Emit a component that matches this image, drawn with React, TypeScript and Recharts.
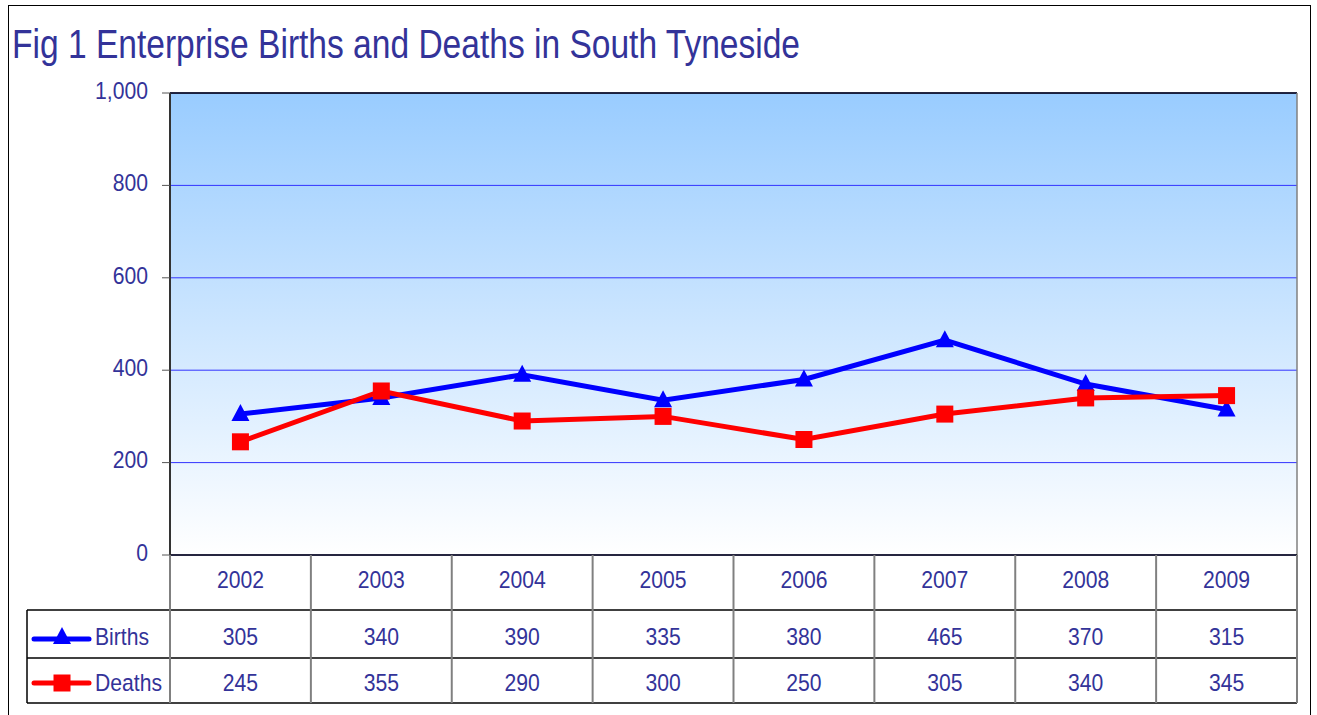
import React from 'react';
import { LineChart, Line, XAxis, YAxis, CartesianGrid } from 'recharts';

const years = ['2002', '2003', '2004', '2005', '2006', '2007', '2008', '2009'];
const births = [305, 340, 390, 335, 380, 465, 370, 315];
const deaths = [245, 355, 290, 300, 250, 305, 340, 345];
const yTicks = [0, 200, 400, 600, 800, 1000];

const data = years.map((year, i) => ({ year, Births: births[i], Deaths: deaths[i] }));

const W = 1317;
const H = 715;
const PLOT_LEFT = 170;
const PLOT_RIGHT = 1297;
const PLOT_TOP = 93;
const PLOT_BOTTOM = 555;
const TABLE_LEFT = 27;
const COL_W = (PLOT_RIGHT - PLOT_LEFT) / years.length;
const ROW_YEAR = 25;
const ROW_BIRTHS = 82;
const ROW_DEATHS = 128;
const LINE_B = 55;
const LINE_D = 103;
const TABLE_H = 148;

const FONT = '"Liberation Sans", Arial, sans-serif';
const TEXT = '#333399';
const BLUE = '#0000ff';
const RED = '#ff0000';

// slightly narrowed text, like the original export
const NText = ({ x, y, anchor = 'middle', children }: any) => (
  <text
    transform={`translate(${x},${y}) scale(0.9,1)`}
    fill={TEXT}
    fontSize={23.5}
    fontFamily={FONT}
    textAnchor={anchor}
    dominantBaseline="central"
  >
    {children}
  </text>
);

const Triangle = ({ cx, cy }: { cx: number; cy: number }) => (
  <path d={`M${cx},${cy - 10} L${cx + 9},${cy + 7} L${cx - 9},${cy + 7} Z`} fill={BLUE} />
);

const Square = ({ cx, cy }: { cx: number; cy: number }) => (
  <rect x={cx - 8.5} y={cy - 8.5} width={17} height={17} fill={RED} />
);

// each x tick draws its column of the data table
const TableTick = (props: any) => {
  const { x, y, payload, index } = props;
  const last = index === years.length - 1;
  return (
    <g>
      <line x1={x - COL_W / 2} x2={x - COL_W / 2} y1={y} y2={y + TABLE_H} stroke="#808080" strokeWidth={2} />
      {last && <line x1={x + COL_W / 2} x2={x + COL_W / 2} y1={y} y2={y + TABLE_H} stroke="#808080" strokeWidth={2} />}
      <NText x={x} y={y + ROW_YEAR}>{payload.value}</NText>
      <NText x={x} y={y + ROW_BIRTHS}>{births[index]}</NText>
      <NText x={x} y={y + ROW_DEATHS}>{deaths[index]}</NText>
    </g>
  );
};

const YTick = (props: any) => {
  const { x, y, payload } = props;
  return <NText x={x} y={y - 2} anchor="end">{payload.value.toLocaleString('en-US')}</NText>;
};

const App = () => {
  return (
    <div style={{ position: 'absolute', left: 0, top: 0, width: W, height: H, background: '#fff' }}>
      <div style={{ position: 'absolute', left: 8, top: 5, width: 1303, height: 740, border: '1.5px solid #000', boxSizing: 'border-box' }} />
      <div style={{ position: 'absolute', left: 0, top: 0 }}>
        <LineChart width={W} height={H} data={data} margin={{ top: PLOT_TOP, right: W - PLOT_RIGHT, bottom: 12, left: 0 }}>
          <defs>
            <linearGradient id="plotBg" x1="0" y1="0" x2="0" y2="1">
              <stop offset="0%" stopColor="#99ccff" />
              <stop offset="100%" stopColor="#ffffff" />
            </linearGradient>
          </defs>
          <CartesianGrid vertical={false} stroke="#3333ff" strokeWidth={1} fill="url(#plotBg)" fillOpacity={1} />
          <XAxis
            dataKey="year"
            height={TABLE_H}
            padding={{ left: COL_W / 2, right: COL_W / 2 }}
            interval={0}
            tickSize={0}
            tickMargin={0}
            tickLine={false}
            axisLine={{ stroke: '#000', strokeWidth: 1.5 }}
            tick={TableTick}
          />
          <YAxis
            width={PLOT_LEFT}
            domain={[0, 1000]}
            ticks={yTicks}
            interval={0}
            tickSize={8}
            tickMargin={14}
            tickLine={{ stroke: '#555' }}
            axisLine={{ stroke: '#333', strokeWidth: 2 }}
            tick={YTick}
          />
          <Line dataKey="Births" stroke={BLUE} strokeWidth={5} dot={(p: any) => <Triangle key={`b${p.index}`} cx={p.cx} cy={p.cy} />} isAnimationActive={false} />
          <Line dataKey="Deaths" stroke={RED} strokeWidth={5} dot={(p: any) => <Square key={`d${p.index}`} cx={p.cx} cy={p.cy} />} isAnimationActive={false} />

          <text x={12} y={58} fill={TEXT} fontSize={40} fontFamily={FONT} textLength={788} lengthAdjust="spacingAndGlyphs">
            Fig 1 Enterprise Births and Deaths in South Tyneside
          </text>
          <line x1={PLOT_LEFT} x2={PLOT_RIGHT} y1={PLOT_TOP} y2={PLOT_TOP} stroke="#000" strokeWidth={1.5} />
          <line x1={PLOT_RIGHT} x2={PLOT_RIGHT} y1={PLOT_TOP} y2={PLOT_BOTTOM} stroke="#808080" strokeWidth={1.5} />
          <line x1={TABLE_LEFT} x2={PLOT_RIGHT} y1={PLOT_BOTTOM + LINE_B} y2={PLOT_BOTTOM + LINE_B} stroke="#000" strokeWidth={1.5} />
          <line x1={TABLE_LEFT} x2={PLOT_RIGHT} y1={PLOT_BOTTOM + LINE_D} y2={PLOT_BOTTOM + LINE_D} stroke="#000" strokeWidth={1.5} />
          <line x1={TABLE_LEFT} x2={PLOT_RIGHT} y1={PLOT_BOTTOM + TABLE_H} y2={PLOT_BOTTOM + TABLE_H} stroke="#000" strokeWidth={1.5} />
          <line x1={TABLE_LEFT} x2={TABLE_LEFT} y1={PLOT_BOTTOM + LINE_B} y2={PLOT_BOTTOM + TABLE_H} stroke="#000" strokeWidth={1.5} />

          <line x1={34} x2={89} y1={PLOT_BOTTOM + ROW_BIRTHS + 2} y2={PLOT_BOTTOM + ROW_BIRTHS + 2} stroke={BLUE} strokeWidth={5} strokeLinecap="round" />
          <Triangle cx={62} cy={PLOT_BOTTOM + ROW_BIRTHS} />
          <NText x={95} y={PLOT_BOTTOM + ROW_BIRTHS} anchor="start">Births</NText>
          <line x1={34} x2={89} y1={PLOT_BOTTOM + ROW_DEATHS} y2={PLOT_BOTTOM + ROW_DEATHS} stroke={RED} strokeWidth={5} strokeLinecap="round" />
          <Square cx={62} cy={PLOT_BOTTOM + ROW_DEATHS} />
          <NText x={95} y={PLOT_BOTTOM + ROW_DEATHS} anchor="start">Deaths</NText>
        </LineChart>
      </div>
    </div>
  );
};

export default App;
